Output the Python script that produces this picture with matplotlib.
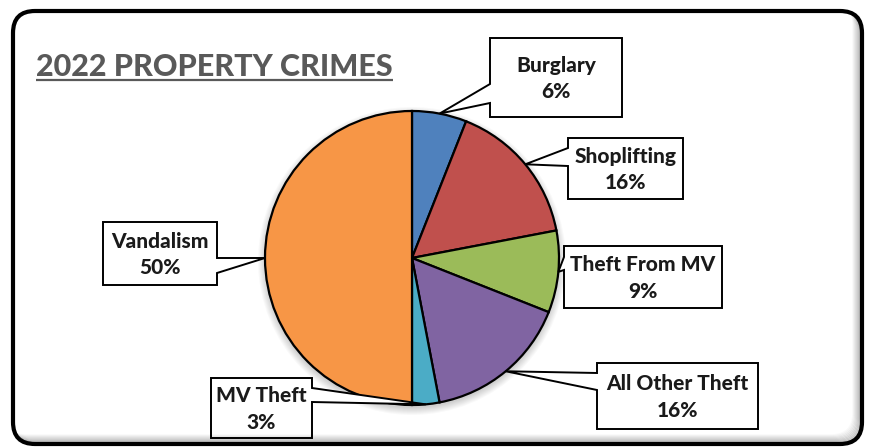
import numpy as np
import matplotlib

matplotlib.use("Agg")
import matplotlib.pyplot as plt
from matplotlib.patches import FancyBboxPatch, Polygon, Circle

# ----- data -----------------------------------------------------------------

categories = ["Burglary", "Shoplifting", "Theft From MV", "All Other Theft",
              "MV Theft", "Vandalism"]
shares = [6, 16, 9, 16, 3, 50]
colors = ["#4F81BD", "#C0504D", "#9BBB59", "#8064A2", "#4BACC6", "#F79646"]
title = "2022 PROPERTY CRIMES"

# callout boxes in pixel coords: (x0, y0, x1, y1), side facing the pie,
# and where the pointer leaves the box edge (top, bottom)
callouts = {
    "Burglary":        ((490, 38, 622, 117), "left", (84, 103)),
    "Shoplifting":     ((568, 138, 683, 199), "left", (148, 166)),
    "Theft From MV":   ((564, 246, 722, 308), "left", (257, 270)),
    "All Other Theft": ((597, 363, 758, 429), "left", (373, 390)),
    "MV Theft":        ((211, 378, 312, 438), "right", (388, 402)),
    "Vandalism":       ((103, 222, 217, 285), "right", (258, 273)),
}

W, H = 869, 447
CX, CY, R = 412, 258, 147

# ----- figure ---------------------------------------------------------------

fig = plt.figure(figsize=(W / 100, H / 100), dpi=100)
ax = fig.add_axes([0, 0, 1, 1])

# soft shadow under the pie
for k in range(8):
    ax.add_patch(Circle((CX, CY + 3), R + k, facecolor="black",
                        alpha=0.025, edgecolor="none", zorder=1))

wedges, _ = ax.pie(shares, colors=colors, startangle=-90, counterclock=True,
                   radius=R, center=(CX, CY),
                   wedgeprops=dict(edgecolor="black", linewidth=1.6))
for w in wedges:
    w.set_zorder(2)

ax.set_xlim(0, W)
ax.set_ylim(H, 0)
ax.set_aspect("auto")
ax.axis("off")

# outer rounded frame with an inner drop shadow on the right/bottom
frame = FancyBboxPatch((13, 11), 849, 433, boxstyle="round,pad=0,rounding_size=22",
                       facecolor="none", edgecolor="black", linewidth=3.0, zorder=6)
ax.add_patch(frame)
for k in range(1, 10):
    sh = FancyBboxPatch((13 - k, 11 - k), 849, 433,
                        boxstyle="round,pad=0,rounding_size=22",
                        facecolor="none", edgecolor="black",
                        linewidth=1.2, alpha=0.22 * (1 - k / 10), zorder=5)
    ax.add_patch(sh)
    sh.set_clip_path(frame)

# callout labels
for name, share, w in zip(categories, shares, wedges):
    (x0, y0, x1, y1), side, (ya, yb) = callouts[name]
    mid = np.deg2rad((w.theta1 + w.theta2) / 2)
    tip = (CX + R * np.cos(mid), CY + R * np.sin(mid))
    if side == "left":
        pts = [(x0, y0), (x1, y0), (x1, y1), (x0, y1), (x0, yb), tip, (x0, ya)]
    else:
        pts = [(x0, y0), (x1, y0), (x1, ya), tip, (x1, yb), (x1, y1), (x0, y1)]
    ax.add_patch(Polygon(pts, closed=True, facecolor="white", edgecolor="black",
                         linewidth=1.4, joinstyle="miter", zorder=4))
    ax.text((x0 + x1) / 2, (y0 + y1) / 2 + 1, f"{name}\n{share}%", ha="center",
            va="center", fontsize=15, fontweight=900, family="Lato",
            color="#1a1a1a", linespacing=1.45, zorder=5)

# underlined title
t = ax.text(36, 76, title, ha="left", va="baseline", fontsize=22,
            fontweight=900, family="Lato", color="#595959", zorder=5)
fig.canvas.draw()
bb = t.get_window_extent().transformed(ax.transData.inverted())
ax.plot([bb.x0, bb.x1], [80, 80], color="#595959", linewidth=1.6,
        solid_capstyle="butt", zorder=5)

fig.savefig("out.png", dpi=100)
